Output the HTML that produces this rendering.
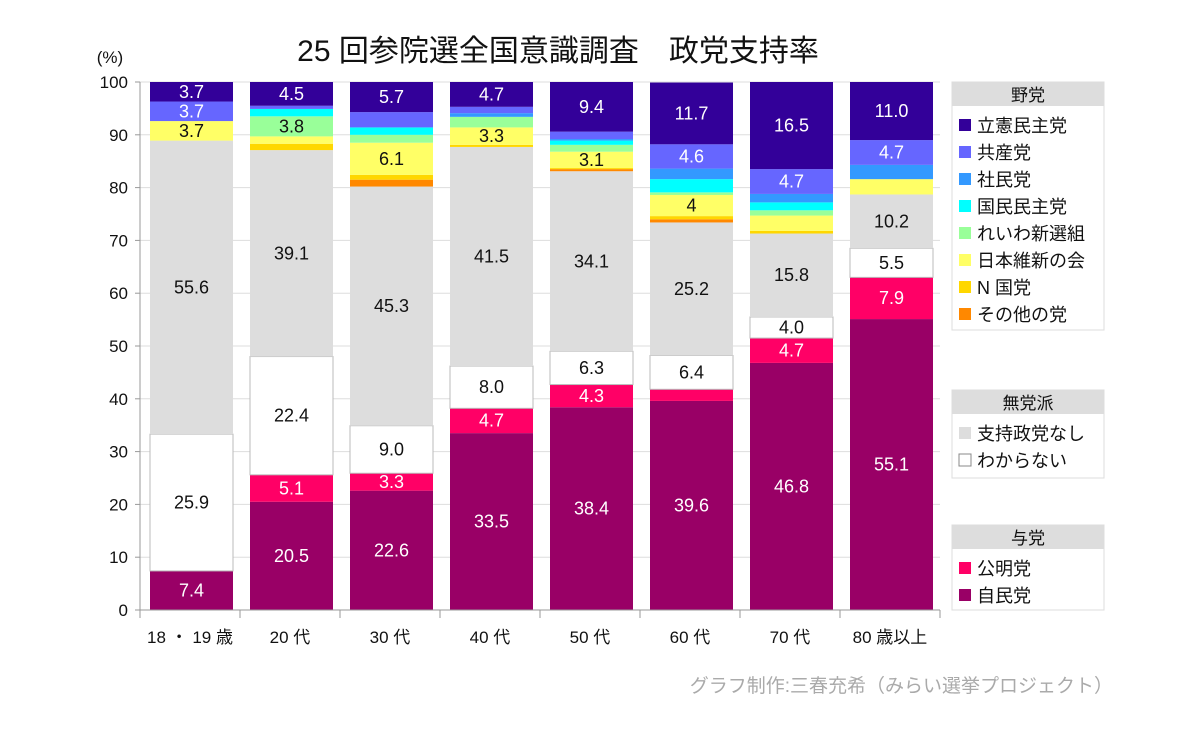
<!DOCTYPE html>
<html><head><meta charset="utf-8"><style>
body{margin:0;background:#fff;}
svg text{font-family:"Liberation Sans","Noto Sans CJK JP",sans-serif;}
</style></head><body>
<svg id="chart" width="1200" height="730" xmlns="http://www.w3.org/2000/svg">
<rect width="1200" height="730" fill="#fff"/>
<text x="558" y="61" font-size="30" text-anchor="middle" fill="#111">25 回参院選全国意識調査　政党支持率</text>
<text x="110" y="63" font-size="17" text-anchor="middle" fill="#111">(%)</text>
<g id="grid"></g><g id="bars"></g><g id="axes"></g><g id="legend"></g>
<text x="1113" y="692" font-size="19" text-anchor="end" fill="#aaa">グラフ制作:三春充希（みらい選挙プロジェクト）</text>
</svg>
<script>
const categories=["18 ・ 19 歳","20 代","30 代","40 代","50 代","60 代","70 代","80 歳以上"];
const seriesNames=["自民党","公明党","わからない","支持政党なし","その他の党","N 国党","日本維新の会","れいわ新選組","国民民主党","社民党","共産党","立憲民主党"];
const jimin=[7.4,20.5,22.6,33.5,38.4,39.6,46.8,55.1];
const komei=[0,5.1,3.3,4.7,4.3,2.2,4.7,7.9];
const wakaranai=[25.9,22.4,9.0,8.0,6.3,6.4,4.0,5.5];
const nashi=[55.6,39.1,45.3,41.5,34.1,25.2,15.8,10.2];
const sonota=[0,0,1.3,0,0.4,0.6,0,0];
const nkoku=[0,1.2,0.9,0.4,0.2,0.6,0.5,0];
const ishin=[3.7,1.4,6.1,3.3,3.1,4.0,2.9,2.9];
const reiwa=[0,3.8,1.5,2.0,1.3,0.5,1.0,0];
const kokumin=[0,1.4,1.4,0,0.8,2.5,1.5,0];
const shamin=[0,0,0,0.7,0.3,2.0,1.6,2.7];
const kyosan=[3.7,0.6,2.9,1.2,1.4,4.6,4.7,4.7];
const rikken=[3.7,4.5,5.7,4.7,9.4,11.7,16.5,11.0];
const yTicks=[0,10,20,30,40,50,60,70,80,90,100];

const series=[jimin,komei,wakaranai,nashi,sonota,nkoku,ishin,reiwa,kokumin,shamin,kyosan,rikken];
const colors=["#990066","#ff0066","#ffffff","#dddddd","#ff8800","#ffd700","#ffff66","#99ff99","#00ffff","#3399ff","#6666ff","#330099"];
const textColors=["#fff","#fff","#111","#111","#111","#111","#111","#111","#111","#111","#fff","#fff"];
const keys=["jimin","komei","wakaranai","nashi","sonota","nkoku","ishin","reiwa","kokumin","shamin","kyosan","rikken"];
const NS="http://www.w3.org/2000/svg";
const X0=140,X1=940,Y0=610,Y1=82;
const y=v=>Y0-(v/100)*(Y0-Y1);
const slot=(X1-X0)/categories.length;
const bx=i=>X0+i*slot+10;
const bw=slot-17;
function mk(tag,attrs,parent){const e=document.createElementNS(NS,tag);for(const k in attrs)e.setAttribute(k,attrs[k]);parent.appendChild(e);return e;}
const grid=document.getElementById('grid'),axes=document.getElementById('axes'),bars=document.getElementById('bars'),legend=document.getElementById('legend');
yTicks.forEach(t=>{
  const l=mk('line',{x1:X0,x2:X1,y1:y(t),y2:y(t),stroke:'#ddd','stroke-width':1},grid);
  
  
  const tx=mk('text',{x:128,y:y(t)+6,'font-size':17,'text-anchor':'end',fill:'#111'},axes);
  tx.textContent=t;
  
  
  mk('line',{x1:X0-5,x2:X0,y1:y(t),y2:y(t),stroke:'#999'},axes);
});
mk('line',{x1:X0,x2:X0,y1:Y1,y2:Y0,stroke:'#999'},axes);
mk('line',{x1:X0,x2:X1,y1:Y0,y2:Y0,stroke:'#999'},axes);
for(let i=0;i<=categories.length;i++){mk('line',{x1:X0+i*slot,x2:X0+i*slot,y1:Y0,y2:Y0+8,stroke:'#999'},axes);}
categories.forEach((c,i)=>{
  const tx=mk('text',{x:X0+i*slot+slot/2,y:643,'font-size':17,'text-anchor':'middle',fill:'#111'},axes);
  tx.textContent=c;
  
  
  let cum=0;
  series.forEach((s,k)=>{
    const v=s[i];if(v<=0)return;
    const r=mk('rect',{x:bx(i),y:y(cum+v),width:bw,height:y(cum)-y(cum+v),fill:colors[k]},bars);
    if(k===2){r.setAttribute('stroke','#bbb');r.setAttribute('stroke-width','1');}
    
    
    if(v>=3){
      const t=mk('text',{x:bx(i)+bw/2,y:(y(cum)+y(cum+v))/2+6,'font-size':18,'text-anchor':'middle',fill:textColors[k]},bars);
      t.textContent=(k===6&&Number.isInteger(v))?String(v):v.toFixed(1);
      
      
    }
    cum+=v;
  });
});
const groups=[
  {title:"野党",top:82,bottom:330,items:[11,10,9,8,7,6,5,4]},
  {title:"無党派",top:390,bottom:478,items:[3,2]},
  {title:"与党",top:525,bottom:610,items:[1,0]}
];
groups.forEach(g=>{
  const b=mk('rect',{x:952,y:g.top,width:152,height:g.bottom-g.top,fill:'#fff',stroke:'#ddd'},legend);
  
  
  mk('rect',{x:952,y:g.top,width:152,height:24,fill:'#ddd'},legend);
  const h=mk('text',{x:1028,y:g.top+19,'font-size':17,'text-anchor':'middle',fill:'#111'},legend);
  h.textContent=g.title;
  
  
  g.items.forEach((k,j)=>{
    const cy=g.top+43+j*27;
    mk('rect',{x:959,y:cy-6,width:12,height:12,fill:colors[k],stroke:k===2?'#888':'none'},legend);
    const t=mk('text',{x:977,y:cy+7,'font-size':18,fill:'#111'},legend);
    t.textContent=seriesNames[k];
    
    
  });
});
</script>
</body></html>
